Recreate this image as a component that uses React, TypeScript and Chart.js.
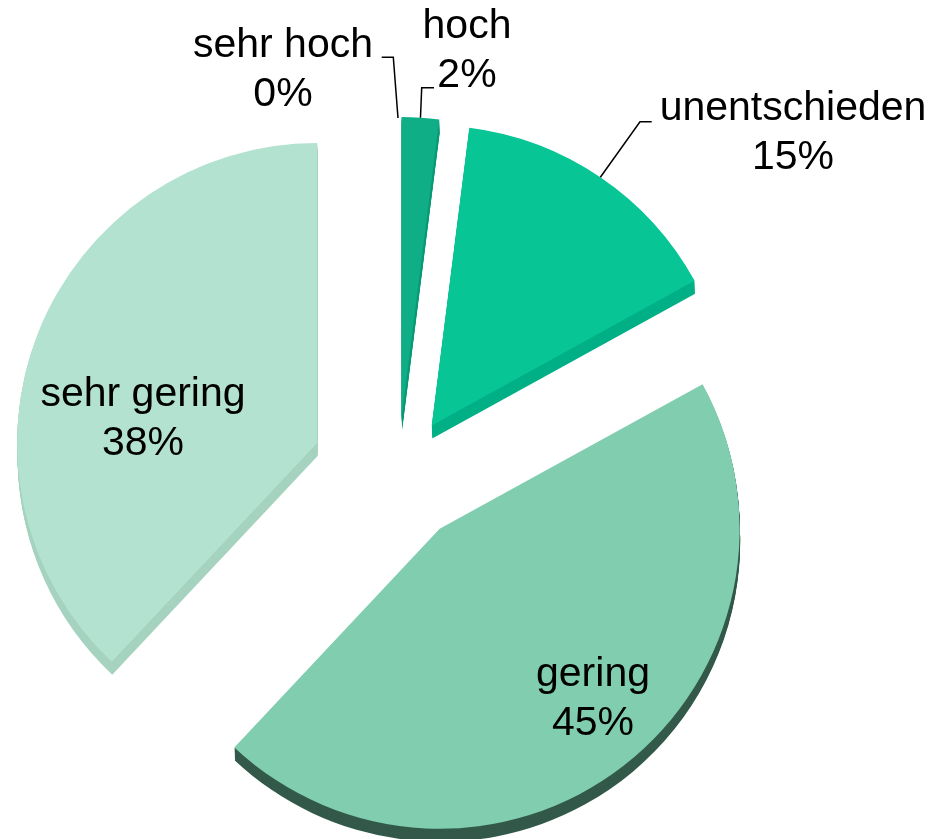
import React, { useEffect, useRef } from "react";
import { Chart, registerables } from "chart.js";

Chart.register(...registerables);

const CATEGORIES = ["sehr hoch", "hoch", "unentschieden", "gering", "sehr gering"];
const VALUES = [0, 2, 15, 45, 38];
const FACE_COLORS = ["#0fae86", "#0fae86", "#08c595", "#80cdb0", "#b3e2d0"];
const SIDE_COLORS = ["#0a9a75", "#0a9a75", "#01b086", "#33594a", "#a6d3c0"];
const EXPLODE = [57, 58, 60, 68, 87];

// label layout
const LABEL_X = [283, 467, 793, 593, 143];
const LABEL_Y = [57, 38, 120, 686, 406];
const LEADER_START_X = [381.7, 434, 651.7, null, null];
const LEADER_ELBOW_X = [393.3, 421.7, 640, null, null];
const LEADER_Y = [57.3, 87.7, 121.7, null, null];

const SIDE_DX = 0.5;
const SIDE_DY = 13;
const FONT = "41px 'Liberation Sans', Arial, sans-serif";
const LINE_H = 49;

const explodedPiePlugin = {
  id: "explodedPie",
  beforeDatasetDraw(chart: any, args: any) {
    const ctx = chart.ctx;
    const arcs = args.meta.data;
    const centers = arcs.map((el: any, i: number) => {
      const mid = (el.startAngle + el.endAngle) / 2;
      return { x: el.x + Math.cos(mid) * EXPLODE[i], y: el.y + Math.sin(mid) * EXPLODE[i], mid };
    });
    // sides (extrusion)
    ctx.save();
    arcs.forEach((el: any, i: number) => {
      if (el.endAngle - el.startAngle <= 0) return;
      const c = centers[i];
      ctx.fillStyle = SIDE_COLORS[i];
      for (let k = SIDE_DY; k >= 1; k--) {
        const ox = (SIDE_DX * k) / SIDE_DY;
        ctx.beginPath();
        ctx.moveTo(c.x + ox, c.y + k);
        ctx.arc(c.x + ox, c.y + k, el.outerRadius, el.startAngle, el.endAngle);
        ctx.closePath();
        ctx.fill();
      }
    });
    ctx.restore();
    // faces via library arc elements
    arcs.forEach((el: any, i: number) => {
      const c = centers[i];
      ctx.save();
      ctx.translate(c.x - el.x, c.y - el.y);
      el.draw(ctx);
      ctx.restore();
    });
    return false;
  },
  afterDraw(chart: any) {
    const ctx = chart.ctx;
    const meta = chart.getDatasetMeta(0);
    const arcs = meta.data;
    ctx.save();
    ctx.strokeStyle = "#000";
    ctx.lineWidth = 1.5;
    arcs.forEach((el: any, i: number) => {
      const sx = LEADER_START_X[i];
      if (sx === null) return;
      const mid = (el.startAngle + el.endAngle) / 2;
      const d = EXPLODE[i] + el.outerRadius;
      const px = el.x + Math.cos(mid) * d;
      const py = el.y + Math.sin(mid) * d;
      ctx.beginPath();
      ctx.moveTo(sx, LEADER_Y[i] as number);
      ctx.lineTo(LEADER_ELBOW_X[i] as number, LEADER_Y[i] as number);
      ctx.lineTo(px, py);
      ctx.stroke();
    });
    ctx.fillStyle = "#000";
    ctx.font = FONT;
    ctx.textAlign = "center";
    ctx.textBaseline = "alphabetic";
    CATEGORIES.forEach((cat, i) => {
      ctx.fillText(cat, LABEL_X[i], LABEL_Y[i]);
      ctx.fillText(`${VALUES[i]}%`, LABEL_X[i], LABEL_Y[i] + LINE_H);
    });
    ctx.restore();
  },
};

export default function App() {
  const canvasRef = useRef<HTMLCanvasElement | null>(null);
  useEffect(() => {
    if (!canvasRef.current) return;
    const chart = new Chart(canvasRef.current, {
      type: "pie",
      data: {
        labels: CATEGORIES,
        datasets: [
          {
            data: VALUES,
            backgroundColor: FACE_COLORS,
            borderWidth: 0,
            radius: 300,
          } as any,
        ],
      },
      options: {
        responsive: false,
        animation: false,
        events: [],
        layout: { padding: { left: 0, right: 140, top: 111, bottom: 0 } },
        plugins: {
          legend: { display: false },
          tooltip: { enabled: false },
          title: { display: false },
        },
      },
      plugins: [explodedPiePlugin],
    });
    return () => chart.destroy();
  }, []);
  return (
    <div style={{ position: "fixed", left: 0, top: 0, width: 936, height: 839, background: "#fff" }}>
      <canvas ref={canvasRef} width={936} height={839} style={{ display: "block" }} />
    </div>
  );
}
